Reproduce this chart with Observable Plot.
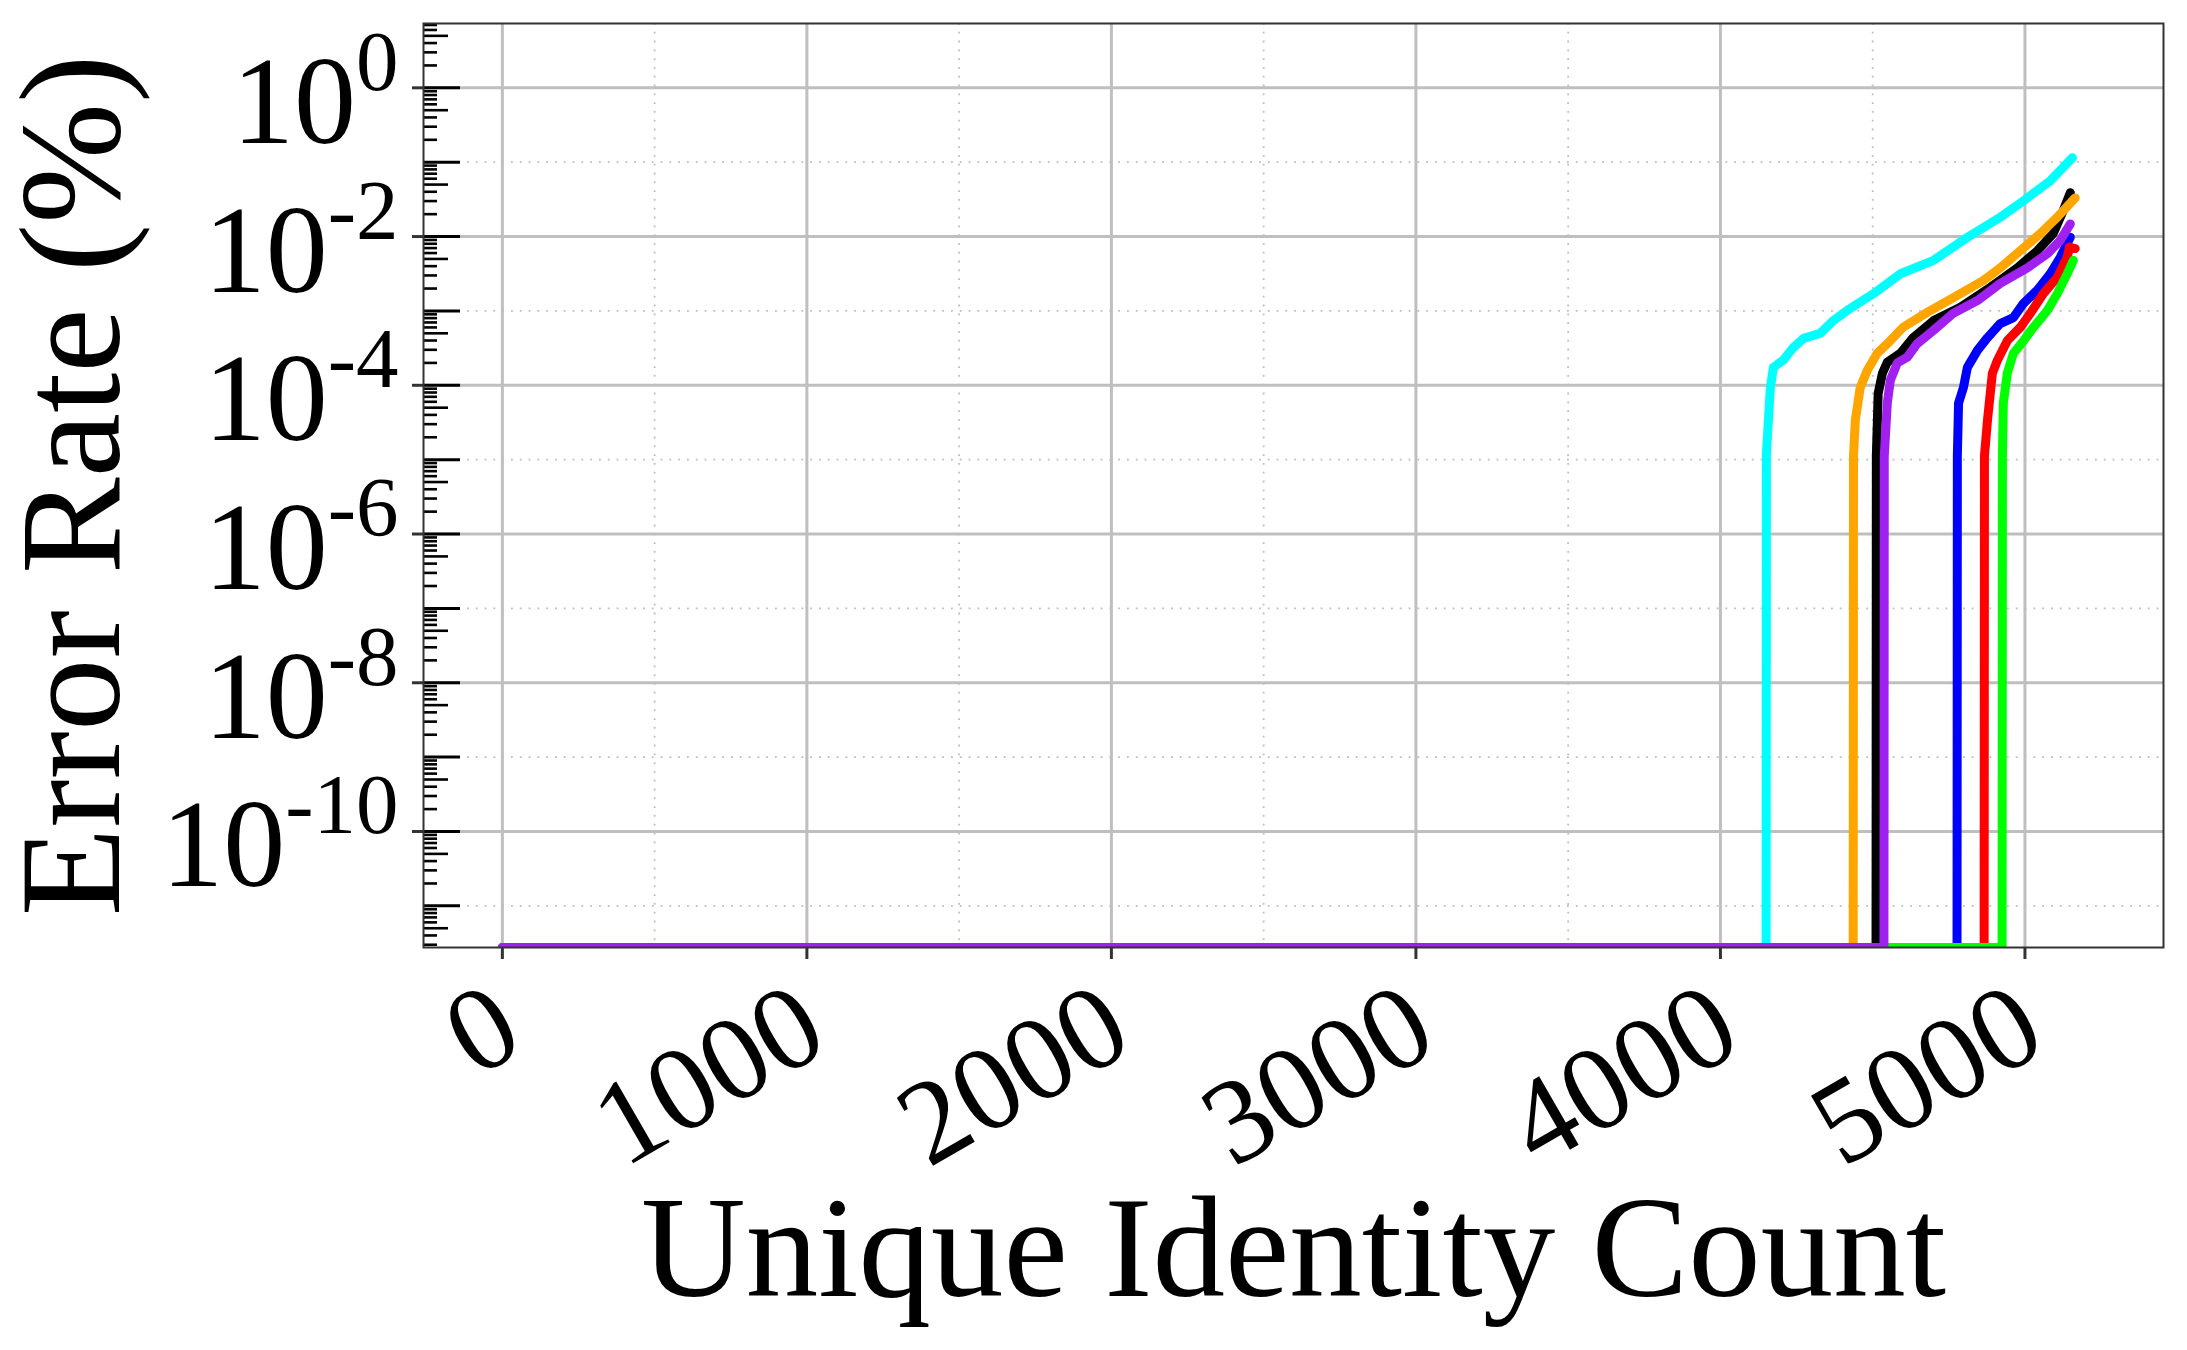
<!DOCTYPE html>
<html><head><meta charset="utf-8">
<script src="https://cdn.jsdelivr.net/npm/d3@7"></script>
<script src="https://cdn.jsdelivr.net/npm/@observablehq/plot@0.6"></script>
<style>html,body{margin:0;padding:0;background:#fff;} #chart svg{display:block}</style>
</head><body><div id="chart"></div>
<script>
// ---- data ----
const xLabel = "Unique Identity Count";
const yLabel = "Error Rate (%)";
const xMajorTicks = [0, 1000, 2000, 3000, 4000, 5000];
const xMinorGrid = [500, 1500, 2500, 3500, 4500];
const yEvenDecades = [1e0, 1e-2, 1e-4, 1e-6, 1e-8, 1e-10];
const yOddDecades = [1e-1, 1e-3, 1e-5, 1e-7, 1e-9, 1e-11];

const blackCount = [0, 4511, 4512, 4518, 4532, 4548, 4591, 4633, 4700, 4788, 4887, 4975, 5041, 5093, 5126, 5149];
const blackRate  = [0, 0, 1.12e-5, 7.76e-5, 1.45e-4, 2.04e-4, 2.69e-4, 4.37e-4, 7.41e-4, 1.12e-3, 2.09e-3, 3.80e-3, 6.46e-3, 1.10e-2, 2.24e-2, 3.89e-2];

const cyanCount = [0, 4150, 4151, 4155, 4164, 4174, 4207, 4240, 4273, 4328, 4371, 4417, 4502, 4591, 4700, 4811, 4919, 4995, 5083, 5156];
const cyanRate  = [0, 0, 1.2e-5, 2.29e-5, 9.33e-5, 1.74e-4, 2.19e-4, 3.24e-4, 4.27e-4, 5.01e-4, 7.41e-4, 1.02e-3, 1.70e-3, 3.16e-3, 4.79e-3, 9.77e-3, 1.82e-2, 3.02e-2, 5.62e-2, 1.15e-1];

const orangeCount = [0, 4436, 4437, 4443, 4459, 4482, 4515, 4558, 4600, 4679, 4765, 4864, 4919, 4985, 5051, 5106, 5165];
const orangeRate  = [0, 0, 1.12e-5, 3.39e-5, 9.33e-5, 1.58e-4, 2.69e-4, 3.98e-4, 6.03e-4, 9.55e-4, 1.51e-3, 2.57e-3, 3.80e-3, 6.46e-3, 1.10e-2, 1.82e-2, 3.31e-2];

const blueCount = [0, 4777, 4778, 4782, 4798, 4811, 4844, 4877, 4919, 4962, 4995, 5041, 5083, 5116, 5149];
const blueRate  = [0, 0, 1.12e-5, 5.75e-5, 9.33e-5, 1.74e-4, 2.95e-4, 4.37e-4, 6.76e-4, 8.13e-4, 1.26e-3, 1.91e-3, 3.16e-3, 5.25e-3, 9.77e-3];

const redCount = [0, 4866, 4867, 4877, 4893, 4910, 4942, 4985, 5018, 5060, 5106, 5139, 5146, 5165];
const redRate  = [0, 0, 1.12e-5, 3.39e-5, 1.45e-4, 2.19e-4, 3.98e-4, 6.03e-4, 9.33e-4, 1.70e-3, 2.82e-3, 5.25e-3, 7.24e-3, 6.9e-3];

const greenCount = [0, 4925, 4926, 4929, 4942, 4962, 4992, 5028, 5074, 5106, 5139, 5159];
const greenRate  = [0, 0, 1.12e-5, 5.75e-5, 1.45e-4, 2.69e-4, 3.80e-4, 6.03e-4, 1.02e-3, 1.70e-3, 3.16e-3, 4.79e-3];

const purpleCount = [0, 4537, 4538, 4548, 4558, 4581, 4614, 4646, 4700, 4765, 4844, 4919, 5008, 5074, 5116, 5149];
const purpleRate  = [0, 0, 1.12e-5, 5.75e-5, 1.17e-4, 2.00e-4, 2.40e-4, 3.63e-4, 5.50e-4, 9.33e-4, 1.38e-3, 2.34e-3, 3.80e-3, 5.89e-3, 8.91e-3, 1.48e-2];

// draw order: last is on top
const seriesNames  = ["black", "cyan", "orange", "blue", "red", "green", "purple"];
const seriesColors = ["#000000", "#00ffff", "#ffa500", "#0000ff", "#ff0000", "#00ff00", "#a020f0"];
const seriesCounts = [blackCount, cyanCount, orangeCount, blueCount, redCount, greenCount, purpleCount];
const seriesRates  = [blackRate, cyanRate, orangeRate, blueRate, redRate, greenRate, purpleRate];

// ---- scales ----
const yMin = Math.pow(10, -11.56), yMax = Math.pow(10, 0.865);
const xDomain = [-259, 5455];

// minor log ticks (positions only)
const minor5 = [], minorOther = [];
for (let e = -12; e <= 0; e++) {
  for (const m of [2, 3, 4, 5, 6, 7, 8, 9]) {
    const v = m * Math.pow(10, e);
    if (v > yMin && v < yMax) (m === 5 ? minor5 : minorOther).push(v);
  }
}

const W = 2187, H = 1350;
const lineMarks = seriesNames.map((name, i) => {
  const rows = seriesCounts[i].map((c, j) => ({series: name, count: c, rate: seriesRates[i][j]}));
  return Plot.line(rows, {
    x: "count",
    y: d => (d.rate > 0 ? d.rate : yMin),
    stroke: seriesColors[i],
    strokeWidth: 9,
    strokeLinejoin: "round",
    clip: true
  });
});

const blank = () => "";
const chart = Plot.plot({
  width: W,
  height: H,
  marginLeft: 423,
  marginRight: 24,
  marginTop: 23,
  marginBottom: 403,
  style: {fontFamily: "'Liberation Serif', 'Times New Roman', serif", background: "#fff", color: "#000"},
  x: {type: "linear", domain: xDomain},
  y: {type: "log", domain: [yMin, yMax]},
  marks: [
    Plot.gridY(yOddDecades, {stroke: "#bdbdbd", strokeOpacity: 1, strokeWidth: 1.8, strokeDasharray: "1.8,7"}),
    Plot.gridX(xMinorGrid, {stroke: "#bdbdbd", strokeOpacity: 1, strokeWidth: 1.8, strokeDasharray: "1.8,7"}),
    Plot.gridY(yEvenDecades, {stroke: "#bfbfbf", strokeOpacity: 1, strokeWidth: 3}),
    Plot.gridX(xMajorTicks, {stroke: "#bfbfbf", strokeOpacity: 1, strokeWidth: 3}),
    ...lineMarks,
    // y ticks
    Plot.axisY(yEvenDecades, {anchor: "left", tickSize: 11, stroke: "#333", strokeWidth: 3, tickFormat: blank, label: null}),
    Plot.axisY([...yEvenDecades, ...yOddDecades], {anchor: "left", tickSize: -37, stroke: "#000", strokeWidth: 3, tickFormat: blank, label: null}),
    Plot.axisY(minor5, {anchor: "left", tickSize: -25, stroke: "#000", strokeWidth: 2.6, tickFormat: blank, label: null}),
    Plot.axisY(minorOther, {anchor: "left", tickSize: -14, stroke: "#000", strokeWidth: 2.6, tickFormat: blank, label: null}),
    Plot.axisY(yEvenDecades, {anchor: "left", tickSize: 0, tickPadding: 25, fontSize: 124, fill: "#000",
      tickFormat: d => "10^" + Math.round(Math.log10(d)), label: null}),
    // x ticks
    Plot.axisX(xMajorTicks, {anchor: "bottom", tickSize: 12, stroke: "#333", strokeWidth: 3, tickFormat: blank, label: null}),
    Plot.text(xMajorTicks, {x: d => d, text: d => String(d), frameAnchor: "bottom", dx: 25, dy: 101,
      rotate: -30, textAnchor: "end", lineAnchor: "bottom", fontSize: 120, fill: "#000"}),
    // axis titles
    Plot.text([xLabel], {text: d => d, frameAnchor: "bottom", dy: 348, lineAnchor: "bottom", textAnchor: "middle", fontSize: 145, fill: "#000"}),
    Plot.text([yLabel], {text: d => d, frameAnchor: "left", dx: -305, rotate: -90, lineAnchor: "bottom", textAnchor: "middle", fontSize: 145, fill: "#000"}),
    Plot.frame({stroke: "#333", strokeWidth: 2})
  ]
});

// superscript exponents on the y tick labels
d3.select(chart).selectAll("text").each(function () {
  const s = this.textContent;
  if (!/^10\^/.test(s)) return;
  const exp = s.split("^")[1];
  const t = d3.select(this);
  t.text(null).attr("y", 55);
  t.append("tspan").text("10");
  t.append("tspan").attr("font-size", 85).attr("dy", -53).text(exp);
});

document.getElementById("chart").appendChild(chart);
</script>
</body></html>
